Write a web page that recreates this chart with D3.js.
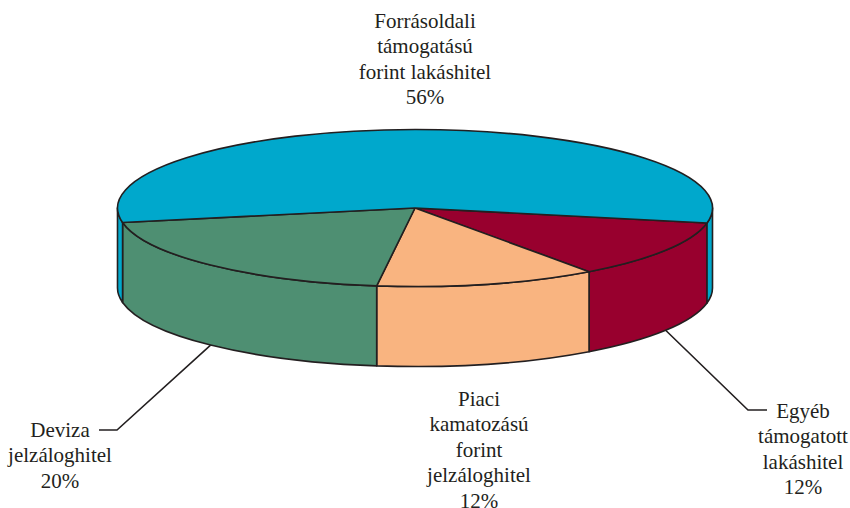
<!DOCTYPE html>
<html>
<head>
<meta charset="utf-8">
<script src="https://cdn.jsdelivr.net/npm/d3@7"></script>
<style>
  body { margin: 0; background: #fff; }
  svg { display: block; }
</style>
</head>
<body>
<svg id="chart" width="850" height="508"></svg>
<script>

// data
var categories = ["Egyéb támogatott lakáshitel", "Piaci kamatozású forint jelzáloghitel", "Deviza jelzáloghitel", "Forrásoldali támogatású forint lakáshitel"];
var values = [12, 12, 20, 56];
var colors = ["#98002e", "#f9b480", "#4e8f72", "#00a8cc"];
var labelLines = [
    ["Egyéb", "támogatott", "lakáshitel", "12%"],
    ["Piaci", "kamatozású", "forint", "jelzáloghitel", "12%"],
    ["Deviza", "jelzáloghitel", "20%"],
    ["Forrásoldali", "támogatású", "forint lakáshitel", "56%"]
];

// layout
var cx = 415, cy = 208, rx = 297.5, ry = 78.5, depth = 80;
var startDeg = 11;
var stroke = "#231f20";
var fontFam = "'Liberation Serif', 'Times New Roman', Times, 'DejaVu Serif', serif";
var labelPos = [
    {x: 803, y: 418, elbow: [748, 410], end: [767, 410]},
    {x: 479, y: 406},
    {x: 60, y: 437, elbow: [117, 430], end: [99, 430]},
    {x: 425, y: 28}
];
var lineH = 25.4;

var svg = d3.select("#chart");

var pie = d3.pie().sort(null).value(function(d){ return d; })
    .startAngle(startDeg * Math.PI / 180)
    .endAngle(startDeg * Math.PI / 180 + 2 * Math.PI);
var arcs = pie(values);

function pt(t, dy){
    return [cx + rx * Math.cos(t), cy + (dy || 0) + ry * Math.sin(t)];
}

function topPath(a){
    var p0 = pt(a.startAngle), p1 = pt(a.endAngle);
    var large = (a.endAngle - a.startAngle) > Math.PI ? 1 : 0;
    return "M" + cx + "," + cy + "L" + p0 + "A" + rx + "," + ry + " 0 " + large + " 1 " + p1 + "Z";
}

// the visible front wall runs from 0 to PI (and 2PI..3PI after wrap)
function sidePath(a){
    var parts = [];
    [[0, Math.PI], [2 * Math.PI, 3 * Math.PI]].forEach(function(r){
        var s = Math.max(a.startAngle, r[0]), e = Math.min(a.endAngle, r[1]);
        if (e <= s) return;
        var t0 = pt(s), t1 = pt(e), b0 = pt(s, depth), b1 = pt(e, depth);
        parts.push("M" + t0 + "A" + rx + "," + ry + " 0 0 1 " + t1
            + "L" + b1 + "A" + rx + "," + ry + " 0 0 0 " + b0 + "Z");
    });
    return parts.join("");
}

var g = svg.append("g");

g.selectAll("path.side")
    .data(arcs)
    .enter()
    .append("path")
    .attr("class", "side")
    .attr("d", sidePath)
    .style("fill", function(d, i){ return colors[i]; })
    .style("stroke", stroke)
    .style("stroke-width", 1.6)
    .style("stroke-linejoin", "round");

g.selectAll("path.top")
    .data(arcs)
    .enter()
    .append("path")
    .attr("class", "top")
    .attr("d", topPath)
    .style("fill", function(d, i){ return colors[i]; })
    .style("stroke", stroke)
    .style("stroke-width", 1.6)
    .style("stroke-linejoin", "round");

// leader lines from bottom rim at slice middle
arcs.forEach(function(a, i){
    var lp = labelPos[i];
    if (!lp.elbow) return;
    var mid = (a.startAngle + a.endAngle) / 2;
    var p = pt(mid, depth);
    svg.append("path")
        .attr("d", "M" + p + "L" + lp.elbow + "L" + lp.end)
        .style("fill", "none")
        .style("stroke", stroke)
        .style("stroke-width", 1.6);
});

// labels
labelLines.forEach(function(lines, i){
    var lp = labelPos[i];
    var t = svg.append("text")
        .attr("text-anchor", "middle")
        .style("font-family", fontFam)
        .style("font-size", "21px")
        .style("fill", stroke);
    lines.forEach(function(l, j){
        t.append("tspan")
            .attr("x", lp.x)
            .attr("y", lp.y + j * lineH)
            .text(l);
    });
});

</script>
</body>
</html>
